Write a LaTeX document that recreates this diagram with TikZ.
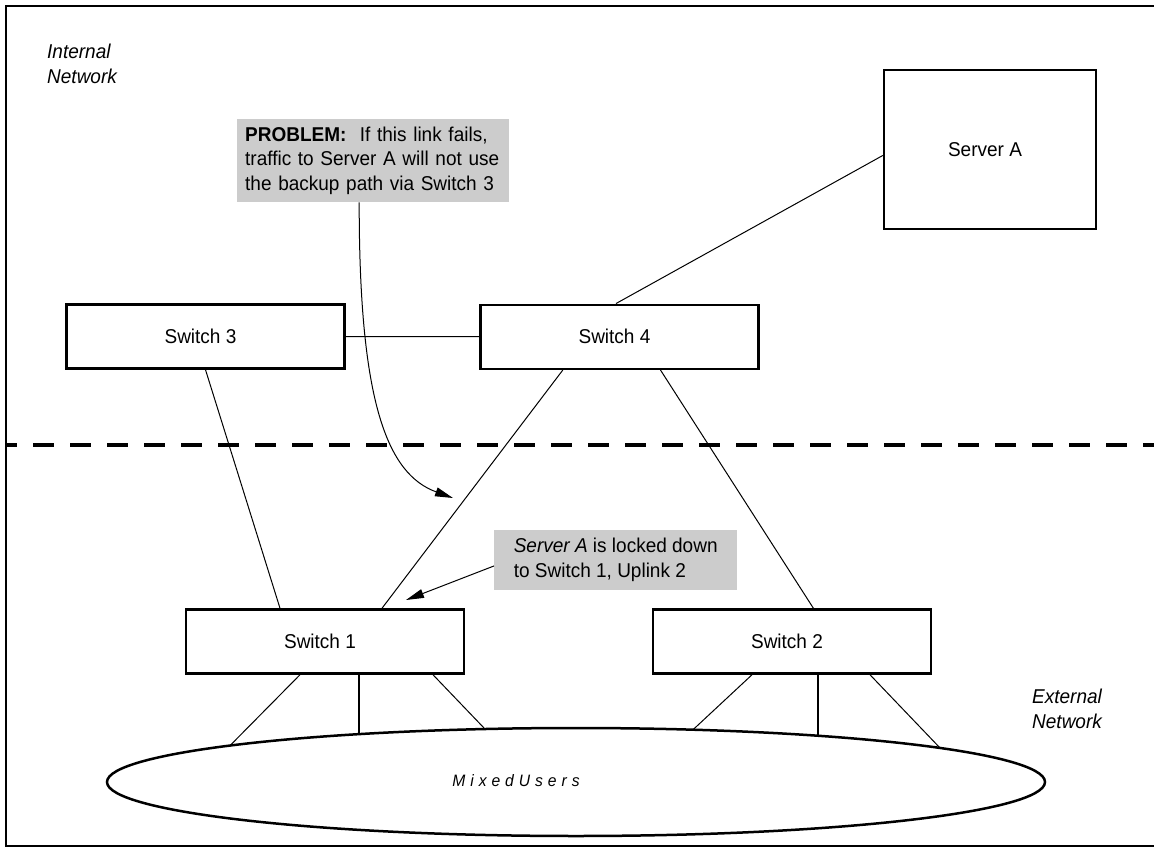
\documentclass[tikz,border=0pt]{standalone}
\usepackage{fontspec}
\setmainfont[FakeStretch=0.95]{Liberation Sans}
\usetikzlibrary{arrows.meta,shapes.geometric}
\definecolor{calloutgray}{RGB}{204,204,204}
\tikzset{
  box/.style={draw, line width=2.5pt, inner sep=0pt, font=\fontsize{20}{24}\selectfont,
    execute at end node={\hspace*{10pt}}},
  switchbox/.style={box, minimum width=278pt, minimum height=64pt},
  link/.style={line width=1pt},
  drop/.style={line width=1.6pt},
  callout/.style={fill=calloutgray, inner ysep=0pt, align=left, font=\fontsize{20}{24.7}\selectfont},
  arealabel/.style={inner sep=0pt, align=left, font=\fontsize{20}{25}\selectfont\itshape},
  pointer/.style={line width=1pt, -{Triangle[length=18pt,width=9pt]}},
}

\begin{document}
\begin{tikzpicture}[x=1pt, y=-1pt]
  \useasboundingbox (0,0) rectangle (1154,848);
  % Frame
  \draw[line width=2.7pt] (1154,6) -- (6,6) -- (6,846) -- (1154,846);

  % Area labels
  \node[arealabel, anchor=north west] (intnet) at (47,43.7) {Internal\\Network};
  \node[arealabel, anchor=north west] (extnet) at (1032,688.7) {External\\Network};

  % Internal / external divider
  \draw[line width=4.5pt, dash pattern=on 21pt off 16pt, dash phase=10pt] (6,445) -- (1154,445);

  % Devices
  \node[box, minimum width=212pt, minimum height=159pt] (srva) at (990,149.5) {Server A};
  \node[switchbox] (sw3) at (205.5,336.5) {Switch 3};
  \node[switchbox] (sw4) at (619.5,336.8) {Switch 4};
  \node[switchbox] (sw1) at (325,641.5) {Switch 1};
  \node[switchbox] (sw2) at (792,641.5) {Switch 2};

  % Users
  \node[ellipse, draw, line width=2.5pt, outer sep=0pt, minimum width=938pt, minimum height=108pt] (users) at (576,782) {};
  \node[font={\fontsize{16.5}{20}\selectfont\itshape\addfontfeatures{LetterSpace=30}}] (userslbl) at (516,781) {MixedUsers};

  % Links
  \draw[link] (sw3) -- (sw4);
  \draw[link] ([yshift=-6pt]srva.west) -- ([xshift=-3.5pt]sw4.north);
  \draw[link] (sw3.south) -- ([xshift=-45pt]sw1.north);
  \draw[link] ([xshift=-56.7pt]sw4.south) -- ([xshift=57pt]sw1.north);
  \draw[link] ([xshift=41pt]sw4.south) -- ([xshift=21.4pt]sw2.north);

  % Drops to users
  \draw[link] ([xshift=-25pt]sw1.south) -- ([shift={(137.53:469pt and 54pt)}]users.center);
  \draw[drop] ([xshift=34pt]sw1.south) -- ([shift={(117.56:469pt and 54pt)}]users.center);
  \draw[link] ([xshift=108pt]sw1.south) -- ([shift={(101.19:469pt and 54pt)}]users.center);
  \draw[link] ([xshift=-40pt]sw2.south) -- ([shift={(75.55:469pt and 54pt)}]users.center);
  \draw[drop] ([xshift=26pt]sw2.south) -- ([shift={(58.94:469pt and 54pt)}]users.center);
  \draw[link] ([xshift=78pt]sw2.south) -- ([shift={(39.09:469pt and 54pt)}]users.center);

  % Callouts
  \node[callout, anchor=north west, inner xsep=8pt, minimum height=83pt, text width=256pt] (problem) at (237,119)
    {\textbf{PROBLEM:}\ \ If this link fails,\\traffic to Server A will not use\\the backup path via Switch 3};
  \node[callout, anchor=north west, minimum width=243pt, minimum height=59.5pt] (lockdown) at (494,530)
    {\textit{Server A} is locked down\\to Switch 1, Uplink 2};

  \coordinate (gaptip) at (453,498);
  \coordinate (uplinktip) at (406,600);
  \draw[pointer] ([xshift=-14pt]problem.south) .. controls (359,402) and (387,474) .. (gaptip);
  \draw[pointer] ([yshift=-6pt]lockdown.west) -- (uplinktip);
\end{tikzpicture}
\end{document}
